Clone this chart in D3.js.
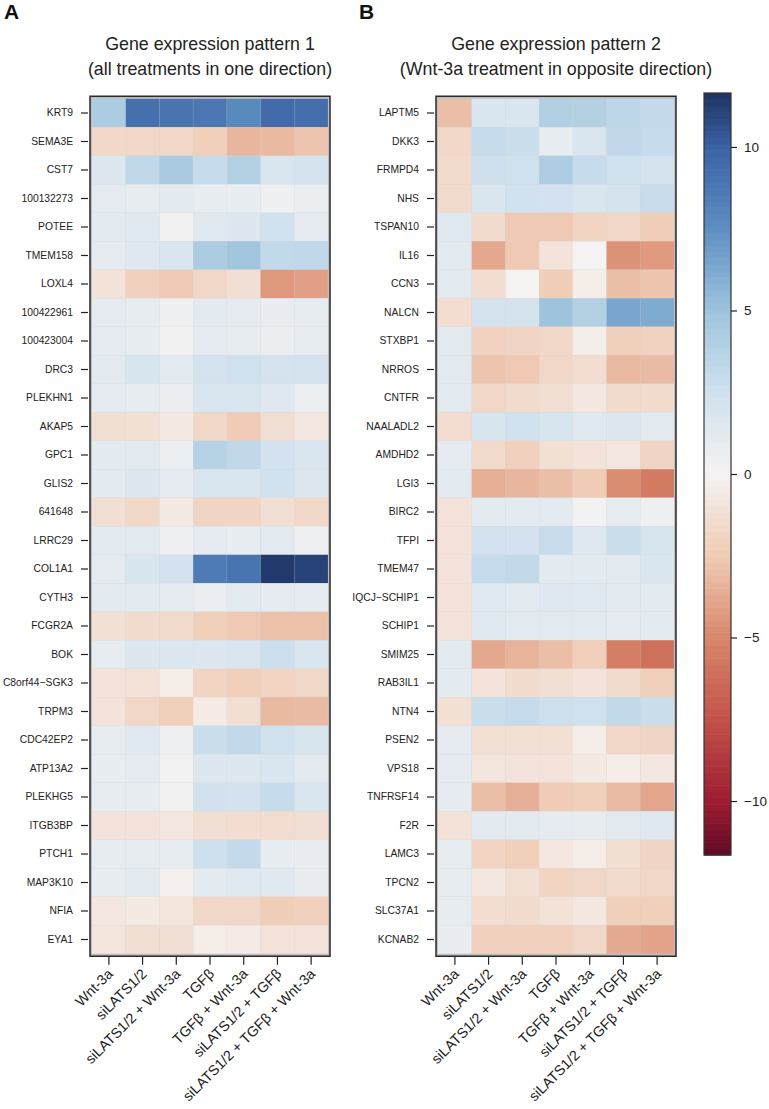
<!DOCTYPE html>
<html>
<head>
<meta charset="utf-8">
<script src="https://cdn.jsdelivr.net/npm/d3@7"></script>
<style>
  html, body { margin: 0; padding: 0; background: #fff; }
  svg { display: block; font-family: "Liberation Sans", Arial, Helvetica, sans-serif; }
</style>
</head>
<body>
<svg id="chart" width="769" height="1109"></svg>
<script>
const treatments = ["Wnt-3a", "siLATS1/2", "siLATS1/2 + Wnt-3a", "TGFβ", "TGFβ + Wnt-3a", "siLATS1/2 + TGFβ", "siLATS1/2 + TGFβ + Wnt-3a"];

const genesA = ["KRT9", "SEMA3E", "CST7", "100132273", "POTEE", "TMEM158", "LOXL4", "100422961", "100423004", "DRC3",
  "PLEKHN1", "AKAP5", "GPC1", "GLIS2", "641648", "LRRC29", "COL1A1", "CYTH3", "FCGR2A", "BOK",
  "C8orf44\u2212SGK3", "TRPM3", "CDC42EP2", "ATP13A2", "PLEKHG5", "ITGB3BP", "PTCH1", "MAP3K10", "NFIA", "EYA1"];

const valuesA = [
  [4.3, 9.2, 9.0, 8.8, 7.8, 9.5, 9.3],
  [-1.7, -1.8, -1.8, -2.3, -3.3, -3.2, -2.8],
  [1.6, 3.3, 4.4, 3.0, 3.9, 1.9, 2.2],
  [1.1, 1.0, 1.2, 0.9, 0.9, 0.4, 0.7],
  [1.2, 1.4, 0.3, 1.4, 1.6, 2.4, 1.1],
  [1.1, 1.5, 1.9, 4.3, 4.8, 3.2, 3.3],
  [-1.1, -2.2, -2.6, -1.8, -1.3, -4.4, -4.1],
  [1.1, 1.0, 0.4, 1.2, 1.1, 0.8, 1.0],
  [1.1, 1.0, 0.3, 1.1, 1.0, 0.7, 1.0],
  [1.3, 2.0, 1.3, 2.2, 2.5, 2.2, 2.2],
  [1.1, 1.0, 0.7, 1.8, 1.9, 1.5, 0.6],
  [-1.3, -1.2, -0.6, -1.8, -2.5, -1.3, -0.8],
  [1.2, 1.3, 0.6, 3.8, 3.3, 2.3, 1.9],
  [1.2, 1.6, 1.1, 1.8, 1.9, 2.4, 1.7],
  [-1.3, -1.7, -0.6, -1.9, -1.9, -1.3, -1.7],
  [1.2, 1.3, 0.5, 1.1, 0.9, 1.3, 0.5],
  [1.1, 2.0, 2.3, 8.6, 9.0, 11.4, 11.1],
  [1.2, 1.2, 1.1, 0.7, 1.3, 1.1, 1.1],
  [-1.2, -1.5, -1.6, -2.3, -2.6, -2.9, -2.9],
  [1.0, 1.7, 1.6, 1.6, 1.8, 2.7, 1.9],
  [-1.0, -1.1, -0.4, -2.0, -2.3, -2.0, -1.8],
  [-1.0, -1.8, -2.3, -0.5, -1.3, -3.2, -3.1],
  [1.0, 1.4, 0.5, 2.8, 3.2, 2.5, 2.0],
  [0.9, 1.1, 0.2, 1.7, 1.7, 1.8, 1.2],
  [1.0, 1.0, 0.3, 2.4, 2.3, 3.0, 1.9],
  [-1.0, -1.0, -0.8, -1.3, -1.4, -1.4, -1.3],
  [1.0, 1.0, 1.0, 2.6, 3.1, 1.0, 0.8],
  [0.9, 1.2, -0.2, 1.2, 1.4, 1.4, 0.8],
  [-0.8, -0.6, -0.9, -1.8, -1.8, -2.4, -2.2],
  [-0.9, -1.3, -1.3, -0.4, -0.5, -1.0, -1.0]
];

const genesB = ["LAPTM5", "DKK3", "FRMPD4", "NHS", "TSPAN10", "IL16", "CCN3", "NALCN", "STXBP1", "NRROS",
  "CNTFR", "NAALADL2", "AMDHD2", "LGI3", "BIRC2", "TFPI", "TMEM47", "IQCJ\u2212SCHIP1", "SCHIP1", "SMIM25",
  "RAB3IL1", "NTN4", "PSEN2", "VPS18", "TNFRSF14", "F2R", "LAMC3", "TPCN2", "SLC37A1", "KCNAB2"];

const valuesB = [
  [-3.0, 1.8, 1.9, 4.0, 3.9, 3.4, 3.1],
  [-1.7, 3.0, 2.8, 0.9, 1.8, 3.3, 3.0],
  [-1.6, 2.6, 2.5, 4.2, 3.0, 2.5, 2.2],
  [-1.6, 1.8, 2.4, 2.3, 1.8, 2.2, 2.9],
  [1.4, -1.5, -2.6, -2.6, -2.0, -1.8, -2.4],
  [1.3, -3.8, -2.6, -1.0, 0.1, -4.6, -4.3],
  [1.3, -1.4, 0.0, -2.4, -0.4, -3.0, -2.7],
  [-1.4, 2.2, 2.2, 5.0, 3.9, 6.4, 6.2],
  [1.3, -2.1, -1.9, -1.7, -0.3, -2.3, -2.1],
  [1.3, -2.8, -2.6, -1.8, -1.4, -3.2, -3.1],
  [1.3, -1.8, -1.5, -1.3, -0.8, -1.5, -1.5],
  [-1.4, 2.0, 2.4, 2.0, 1.4, 1.6, 1.3],
  [1.1, -1.6, -2.2, -1.2, -1.0, -0.8, -1.9],
  [1.2, -3.6, -3.3, -3.0, -2.5, -4.8, -5.6],
  [-1.0, 1.2, 1.2, 1.2, 0.2, 1.0, 0.5],
  [-1.0, 2.3, 2.3, 2.9, 1.5, 2.8, 2.0],
  [-1.0, 3.0, 3.2, 1.2, 1.2, 1.3, 1.8],
  [-1.0, 1.4, 1.3, 1.5, 1.4, 1.2, 1.2],
  [-1.0, 1.4, 1.3, 1.3, 1.3, 1.1, 1.2],
  [1.2, -3.8, -3.4, -3.0, -2.3, -5.4, -6.0],
  [1.2, -1.0, -1.5, -1.3, -1.0, -1.5, -2.3],
  [-1.2, 2.8, 3.0, 2.6, 2.5, 3.2, 2.8],
  [1.1, -1.2, -1.2, -1.2, -0.4, -1.8, -1.9],
  [1.1, -0.9, -1.0, -1.0, -0.6, -0.4, -0.8],
  [1.1, -3.0, -3.5, -2.5, -2.3, -3.1, -3.9],
  [-1.1, 1.3, 1.3, 1.1, 1.0, 1.3, 1.5],
  [1.0, -2.0, -2.3, -0.8, -0.4, -1.3, -1.9],
  [1.0, -0.8, -1.2, -2.0, -1.8, -1.6, -1.8],
  [1.0, -1.4, -1.5, -1.1, -0.8, -2.3, -2.3],
  [0.8, -2.2, -2.2, -2.2, -1.8, -3.7, -4.0]
];

const colorTicks = [-10, -5, 0, 5, 10];
const colorMax = 11.65;

// colour ramp (style)
const stopVals = [-11.65, -10, -7.5, -5, -2.5, 0, 2.5, 5, 7.5, 10, 11.65];
const stopCols = ["#5f0a25", "#9d1c31", "#c2524a", "#d8876a", "#f0ccb6", "#f5f3f2", "#d0e1ee", "#9ec4dd", "#5d8fc2", "#3a62a4", "#1e3361"];
const color = d3.scaleLinear().domain(stopVals).range(stopCols).interpolate(d3.interpolateRgb).clamp(true);

const svg = d3.select("#chart");
const cellW = 236, cellH = 855, topY = 98.75;

function panel(x0, labelPad, title1, title2, genes, values) {
  const g = svg.append("g").attr("transform", `translate(${x0},${topY})`);
  const x = d3.scaleBand().domain(treatments).range([0, cellW]);
  const y = d3.scaleBand().domain(genes).range([0, cellH]);

  // frame
  g.append("rect").attr("x", -2).attr("y", -2.5).attr("width", cellW + 4).attr("height", cellH + 5)
    .attr("fill", "#bdbdbd").attr("stroke", "#2a2a2a").attr("stroke-width", 1.5);

  const cells = [];
  genes.forEach((gname, i) => treatments.forEach((t, j) => cells.push({ g: gname, t, v: values[i][j] })));
  g.selectAll("rect.cell").data(cells).join("rect").attr("class", "cell")
    .attr("x", d => x(d.t)).attr("y", d => y(d.g))
    .attr("width", x.bandwidth()).attr("height", y.bandwidth())
    .attr("fill", d => color(d.v))
    .attr("stroke", "rgba(255,255,255,0.12)").attr("stroke-width", 0.6);

  // left axis
  const ya = g.append("g").attr("transform", "translate(-4,0)")
    .call(d3.axisLeft(y).tickSize(7).tickPadding(labelPad));
  ya.select(".domain").remove();
  ya.selectAll("line").attr("stroke", "#222").attr("stroke-width", 1.2);
  ya.selectAll("text").attr("font-size", 10.3).attr("fill", "#222")
    .attr("font-family", "'Liberation Sans', Arial, sans-serif");

  // bottom axis
  const xa = g.append("g").attr("transform", `translate(0,${cellH + 3})`)
    .call(d3.axisBottom(x).tickSize(8).tickFormat(""));
  xa.select(".domain").remove();
  xa.selectAll("line").attr("stroke", "#222").attr("stroke-width", 1.2);
  xa.selectAll(".tick").append("text")
    .attr("text-anchor", "end")
    .attr("transform", "translate(5,18) rotate(-45)")
    .attr("font-size", 14.3).attr("fill", "#222")
    .attr("font-family", "'Liberation Sans', Arial, sans-serif")
    .text(d => d);

  // titles
  svg.append("text").attr("x", x0 + cellW / 2).attr("y", 50).attr("text-anchor", "middle")
    .attr("font-size", 17.8).attr("fill", "#222").text(title1);
  svg.append("text").attr("x", x0 + cellW / 2).attr("y", 75).attr("text-anchor", "middle")
    .attr("font-size", 17.8).attr("fill", "#222").text(title2);
}

panel(92, 8, "Gene expression pattern 1", "(all treatments in one direction)", genesA, valuesA);
panel(438, 8, "Gene expression pattern 2", "(Wnt-3a treatment in opposite direction)", genesB, valuesB);

svg.append("text").attr("x", 4).attr("y", 19).attr("font-size", 21).attr("font-weight", "bold").attr("fill", "#111").text("A");
svg.append("text").attr("x", 359).attr("y", 19).attr("font-size", 21).attr("font-weight", "bold").attr("fill", "#111").text("B");

// colour bar
const cbX = 704, cbW = 27, cbTop = 93, cbBot = 855;
const cy = d3.scaleLinear().domain([-colorMax, colorMax]).range([cbBot, cbTop]);
const steps = d3.range(0, 120);
const stepH = (cbBot - cbTop) / steps.length;
svg.append("g").selectAll("rect").data(steps).join("rect")
  .attr("x", cbX).attr("width", cbW)
  .attr("y", d => cbBot - (d + 1) * stepH).attr("height", stepH + 0.6)
  .attr("fill", d => color(cy.invert(cbBot - (d + 0.5) * stepH)));
svg.append("rect").attr("x", cbX).attr("y", cbTop).attr("width", cbW).attr("height", cbBot - cbTop)
  .attr("fill", "none").attr("stroke", "#333").attr("stroke-width", 1.2);
const ca = svg.append("g").attr("transform", `translate(${cbX + cbW},0)`)
  .call(d3.axisRight(cy).tickValues(colorTicks).tickSize(6).tickPadding(7)
    .tickFormat(d => d < 0 ? "\u2212" + Math.abs(d) : d));
ca.select(".domain").remove();
ca.selectAll("line").attr("stroke", "#222").attr("stroke-width", 1.2);
ca.selectAll("text").attr("font-size", 13.5).attr("fill", "#222")
  .attr("font-family", "'Liberation Sans', Arial, sans-serif");
</script>
</body>
</html>
